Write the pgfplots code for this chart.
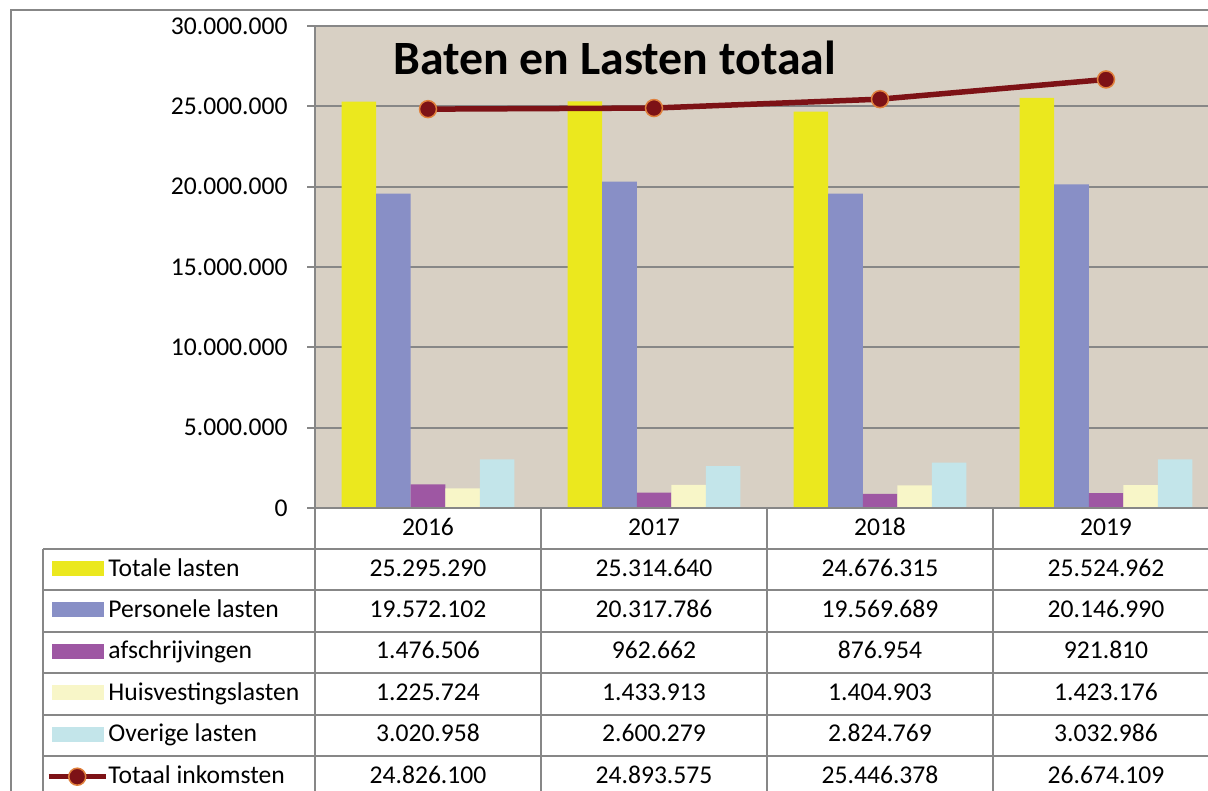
\documentclass[border=0pt]{standalone}
\usepackage{pgfplots}
\pgfplotsset{compat=1.18}
\usepackage{fontspec}
\setmainfont{Carlito}

\definecolor{cTot}{HTML}{EBE81E}
\definecolor{cPers}{HTML}{888FC6}
\definecolor{cAfs}{HTML}{9E57A3}
\definecolor{cHuis}{HTML}{F8F6C8}
\definecolor{cOver}{HTML}{C3E5EA}
\definecolor{cInk}{HTML}{7D1216}
\definecolor{cInkEdge}{HTML}{E0803C}
\definecolor{plotbg}{HTML}{D8D0C4}
\definecolor{rule}{HTML}{878787}

\newcommand{\tabfont}{\fontsize{12.8}{15}\selectfont}

% legend keys as in the data table
\pgfplotsset{
  barkey/.style={legend image code/.code={%
      \fill[##1, draw=none] (0pt,-3.15pt) rectangle (26pt,4.35pt);
      \path (-1.5pt,0pt) (27pt,0pt);}},
  linekey/.style={legend image code/.code={%
      \draw[##1,mark repeat=2,mark phase=2] plot coordinates {(-1.5pt,0pt) (12.75pt,0pt) (27pt,0pt)};}},
}

\begin{document}
\begin{tikzpicture}[x=0.5pt,y=-0.5pt]
\useasboundingbox (0,0) rectangle (1208,791);
\clip (0,0) rectangle (1208,791);
\begin{axis}[
    at={(157.5pt,-254pt)}, anchor=south west,
    scale only axis, width=452pt, height=241pt,
    ybar=0pt, bar width=0.1527,
    xmin=-0.5, xmax=3.5, ymin=0, ymax=30000000,
    xtick={0,1,2,3}, xticklabels={2016,2017,2018,2019},
    ytick={0,5000000,10000000,15000000,20000000,25000000,30000000},
    scaled y ticks=false,
    /pgf/number format/.cd, fixed, 1000 sep={.}, assume math mode=true, /pgfplots/.cd,
    ytick pos=left, xtick pos=bottom,
    tick align=outside, major tick length=4pt,
    xtick style={draw=none},
    ytick style={draw=rule, line width=1pt},
    axis line style={draw=none},
    ymajorgrids, grid style={draw=rule, line width=1pt},
    axis background/.style={fill=plotbg},
    ticklabel style={font=\tabfont, inner sep=0pt},
    xticklabel style={anchor=base, yshift=-9.5pt},
    yticklabel style={anchor=east, xshift=-9.5pt},
    title={Baten en Lasten totaal},
    title style={at={(0.0863,0.8755)}, anchor=base west, inner sep=0pt,
                 font=\fontsize{23.9}{28}\selectfont\bfseries},
    legend style={at={(-0.29757,-0.08506)}, anchor=north west,
                  draw=none, fill=none, inner sep=0pt, outer sep=0pt,
                  row sep=0pt, column sep=0pt, cells={anchor=west},
                  nodes={inner sep=0pt, text height=13.5pt, text depth=7.2pt, font=\tabfont}},
]
\addplot[fill=cTot, draw=none, barkey] coordinates {(0,25295290) (1,25314640) (2,24676315) (3,25524962)};
\addplot[fill=cPers, draw=none, barkey] coordinates {(0,19572102) (1,20317786) (2,19569689) (3,20146990)};
\addplot[fill=cAfs, draw=none, barkey] coordinates {(0,1476506) (1,962662) (2,876954) (3,921810)};
\addplot[fill=cHuis, draw=none, barkey] coordinates {(0,1225724) (1,1433913) (2,1404903) (3,1423176)};
\addplot[fill=cOver, draw=none, barkey] coordinates {(0,3020958) (1,2600279) (2,2824769) (3,3032986)};
\addplot[sharp plot, draw=cInk, line width=2.75pt, mark=*, mark size=4.25pt,
         mark options={fill=cInk, draw=cInkEdge, line width=0.75pt}, linekey]
  coordinates {(0,24826100) (1,24893575) (2,25446378) (3,26674109)};
\legend{Totale lasten, Personele lasten, afschrijvingen, Huisvestingslasten, Overige lasten, Totaal inkomsten}
\end{axis}

% frame and data table grid
\draw[rule, line width=1pt] (11,791) -- (11,10) -- (1208,10);
\draw[rule, line width=1pt] (315,26) -- (315,791);
\draw[rule, line width=1pt] (315,508) -- (1208,508);
\foreach \x in {541,767,993} \draw[rule, line width=1pt] (\x,508) -- (\x,791);
\foreach \y in {549,590.4,631.8,673.2,714.6,756} \draw[rule, line width=1pt] (43,\y) -- (1208,\y);
\draw[rule, line width=1pt] (43,549) -- (43,791);

% table values
\foreach \y/\a/\b/\c/\d in {
    576/25.295.290/25.314.640/24.676.315/25.524.962,
    617.4/19.572.102/20.317.786/19.569.689/20.146.990,
    658.8/1.476.506/962.662/876.954/921.810,
    700.2/1.225.724/1.433.913/1.404.903/1.423.176,
    741.6/3.020.958/2.600.279/2.824.769/3.032.986,
    783/24.826.100/24.893.575/25.446.378/26.674.109} {
  \node[anchor=base, font=\tabfont, inner sep=0pt] at (428,\y) {\a};
  \node[anchor=base, font=\tabfont, inner sep=0pt] at (654,\y) {\b};
  \node[anchor=base, font=\tabfont, inner sep=0pt] at (880,\y) {\c};
  \node[anchor=base, font=\tabfont, inner sep=0pt] at (1106,\y) {\d};
}
\end{tikzpicture}
\end{document}
